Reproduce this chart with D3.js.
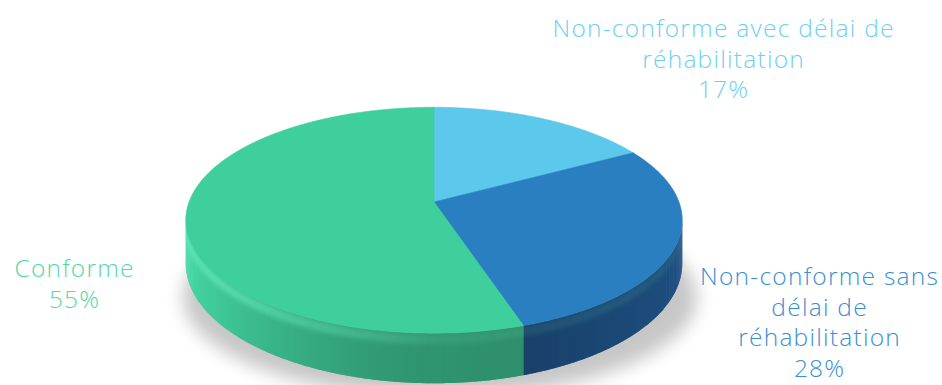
<!DOCTYPE html>
<html>
<head>
<meta charset="utf-8">
<script src="https://cdn.jsdelivr.net/npm/d3@7"></script>
<style>
  html, body { margin: 0; padding: 0; background: #fff; }
  svg { display: block; }
  text { font-family: "Open Sans", "DejaVu Sans", sans-serif; font-weight: 300; }
</style>
</head>
<body>
<svg id="chart" width="942" height="385"></svg>
<script>
// Categories and shares, clockwise from 12 o'clock
const categories = [
  "Non-conforme avec délai de réhabilitation",
  "Non-conforme sans délai de réhabilitation",
  "Conforme"
];
const values = [17, 28, 55];
const labelLines = [
  ["Non-conforme avec délai de", "réhabilitation"],
  ["Non-conforme sans", "délai de", "réhabilitation"],
  ["Conforme"]
];
const topColors  = ["#5bc8ec", "#2a7fc1", "#3ecf9c"];
// side colours: [right-facing, front-facing, left-facing]
const sideRight  = ["#3a8fb0", "#1e5082", "#2a8262"];
const sideFront  = ["#3a8fb0", "#163a5e", "#2f9470"];
const sideLeft   = ["#4aa9cc", "#163a5e", "#46dba8"];
const textColors = ["#6dd0f2", "#3a8fd2", "#52d8a6"];

const svg = d3.select("#chart");
const defs = svg.append("defs");

// Projection of the tilted disc (simple perspective)
const cx = 434, cy = 202, rx = 245, ry = 110, dPersp = 6.2, depth = 42;
function proj(theta, drop) {
  const u = Math.sin(theta), v = -Math.cos(theta);
  const f = dPersp / (dPersp - v);
  return [cx + rx * u * f, cy + ry * v * f + drop * depth * f];
}

const pie = d3.pie().sort(null).value(d => d)(values);

// Filters
const blur = defs.append("filter").attr("id", "shadow")
  .attr("x", "-30%").attr("y", "-30%").attr("width", "160%").attr("height", "160%");
blur.append("feGaussianBlur").attr("stdDeviation", 9);
const soft = defs.append("filter").attr("id", "soft")
  .attr("x", "-10%").attr("y", "-10%").attr("width", "120%").attr("height", "120%");
soft.append("feGaussianBlur").attr("stdDeviation", 2.2);

// Soft shadow under the disc
svg.append("ellipse")
  .attr("cx", cx + 6).attr("cy", cy + 95)
  .attr("rx", rx + 12).attr("ry", ry - 10)
  .attr("fill", "#000").attr("opacity", 0.22)
  .attr("filter", "url(#shadow)");

// Visible side band between the silhouette angles
const thetaA = Math.acos(-1 / dPersp);          // right silhouette
const thetaB = 2 * Math.PI - thetaA;            // left silhouette
const step = Math.PI / 360;

function bandPath(a0, a1, f0, f1) {
  const pts = [];
  for (let t = a0; t <= a1 + 1e-9; t += step) pts.push(proj(t, f0));
  pts.push(proj(a1, f0));
  for (let t = a1; t >= a0 - 1e-9; t -= step) pts.push(proj(t, f1));
  pts.push(proj(a0, f1));
  return d3.line()(pts) + "Z";
}

defs.append("clipPath").attr("id", "sideclip")
  .append("path").attr("d", bandPath(thetaA, thetaB, 0, 1));

const sideG = svg.append("g");
pie.forEach((s, i) => {
  const a0 = Math.max(s.startAngle, thetaA), a1 = Math.min(s.endAngle, thetaB);
  if (a1 <= a0) return;
  for (let t = a0; t < a1; t += step) {
    const t2 = Math.min(t + step * 1.8, a1);
    const u = Math.sin(t + step / 2);
    // u > 0 faces right, u < 0 faces left (towards the light)
    const col = u >= 0
      ? d3.interpolateRgb(sideFront[i], sideRight[i])(u)
      : d3.interpolateRgb(sideFront[i], sideLeft[i])(Math.pow(-u, 1.4));
    sideG.append("path")
      .attr("d", `M${proj(t, 0)}L${proj(t2, 0)}L${proj(t2, 1)}L${proj(t, 1)}Z`)
      .attr("fill", col);
  }
});

// Rounded rim: bright edge along the top of the side, strongest on the lit left
const rimG = svg.append("g").attr("clip-path", "url(#sideclip)")
  .append("g").attr("filter", "url(#soft)");
for (let t = thetaA; t < thetaB; t += step * 2) {
  const u = Math.sin(t + step);
  const a = Math.max(0, -u);
  rimG.append("path")
    .attr("d", `M${proj(t, 0.02)}L${proj(t + step * 2.4, 0.02)}L${proj(t + step * 2.4, 0.22)}L${proj(t, 0.22)}Z`)
    .attr("fill", "#7dffd0")
    .attr("opacity", 0.08 + 0.32 * Math.pow(a, 0.8) * (t > Math.PI ? 1 : 0.2));
}

// Top faces
function topPath(s) {
  const pts = [[cx, cy]];
  for (let t = s.startAngle; t <= s.endAngle + 1e-9; t += step) pts.push(proj(t, 0));
  pts.push(proj(s.endAngle, 0));
  return d3.line()(pts) + "Z";
}
svg.append("g").selectAll("path").data(pie).join("path")
  .attr("d", topPath)
  .attr("fill", (d, i) => topColors[i])
  .attr("stroke", (d, i) => topColors[i])
  .attr("stroke-width", 0.6);

// Labels
const labelPos = [
  { x: 723, y: 37 },
  { x: 819, y: 285 },
  { x: 74, y: 277 }
];
const lineGap = 30.5;
const spacing = 1.25;
pie.forEach((s, i) => {
  const lines = labelLines[i].concat([values[i] + "%"]);
  const t = svg.append("text")
    .attr("text-anchor", "middle")
    .attr("fill", textColors[i])
    .attr("font-size", 24.5)
    .attr("letter-spacing", spacing);
  lines.forEach((ln, j) => {
    t.append("tspan")
      .attr("x", labelPos[i].x + spacing / 2)
      .attr("y", labelPos[i].y + j * lineGap)
      .text(ln);
  });
});
</script>
</body>
</html>
